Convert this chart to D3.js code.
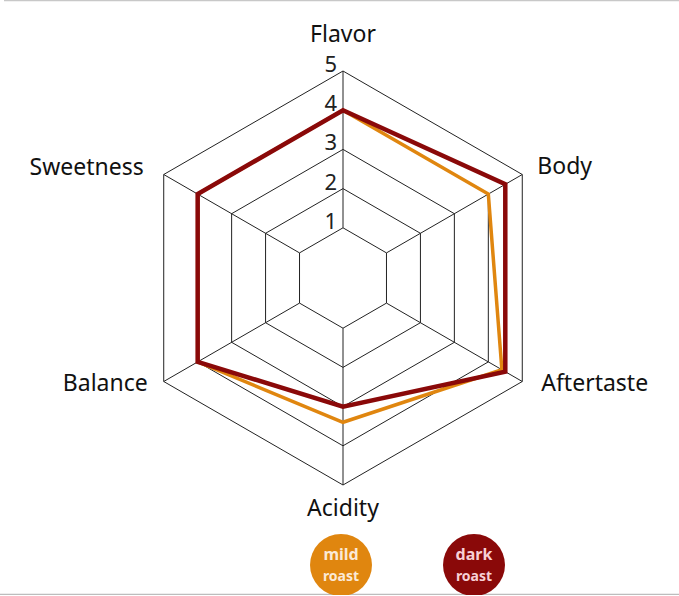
<!DOCTYPE html>
<html>
<head>
<meta charset="utf-8">
<script src="https://cdn.jsdelivr.net/npm/d3@7"></script>
<style>
  html, body { margin: 0; padding: 0; background: #fff; }
  svg { display: block; font-family: "Noto Sans", "Noto Sans CJK KR", sans-serif; }
</style>
</head>
<body>
<svg id="chart" width="679" height="596"></svg>
<script>
const axesNames = ["Flavor", "Body", "Aftertaste", "Acidity", "Balance", "Sweetness"];
const mildRoast = [4, 4, 4.4, 3.4, 4, 4];
const darkRoast = [4, 4.5, 4.5, 3, 4, 4];
const levels = [1, 2, 3, 4, 5];
const seriesNames = ["mild", "dark"];

const svg = d3.select("#chart");
const W = 679, H = 596;
const cx = 343, cy = 278;

// frame lines
svg.append("line").attr("x1", 4).attr("x2", W).attr("y1", 0.5).attr("y2", 0.5)
  .attr("stroke", "#c8c8c8").attr("stroke-width", 1.5);
svg.append("line").attr("x1", 0).attr("x2", W).attr("y1", 594.5).attr("y2", 594.5)
  .attr("stroke", "#bdbdbd").attr("stroke-width", 1.5);

const r = d3.scaleLinear().domain([0, 5]).range([11, 207]);
const angle = d3.scaleLinear().domain([0, axesNames.length]).range([-Math.PI / 2, 1.5 * Math.PI]);
const pt = (i, v) => [cx + r(v) * Math.cos(angle(i)), cy + r(v) * Math.sin(angle(i))];

const g = svg.append("g");

// grid hexagons
levels.forEach(l => {
  g.append("polygon")
    .attr("points", axesNames.map((_, i) => pt(i, l).join(",")).join(" "))
    .attr("fill", "none").attr("stroke", "#222").attr("stroke-width", 1);
});
// spokes
axesNames.forEach((_, i) => {
  const a = pt(i, 1), b = pt(i, 5);
  g.append("line").attr("x1", a[0]).attr("y1", a[1]).attr("x2", b[0]).attr("y2", b[1])
    .attr("stroke", "#222").attr("stroke-width", 1);
});

// tick labels
levels.forEach(l => {
  g.append("text").attr("x", cx - 6).attr("y", pt(0, l)[1] + 1)
    .attr("text-anchor", "end").attr("font-size", 22).attr("fill", "#222").text(l);
});

// series
const line = d3.line().curve(d3.curveLinearClosed);
const colors = { mild: "#e0860f", dark: "#8a0909" };
const widths = { mild: 3.5, dark: 4.5 };
[["mild", mildRoast], ["dark", darkRoast]].forEach(([name, vals]) => {
  g.append("path")
    .attr("d", line(vals.map((v, i) => pt(i, v))))
    .attr("fill", "none").attr("stroke", colors[name])
    .attr("stroke-width", widths[name]).attr("stroke-linejoin", "miter");
});

// axis labels
const labelOffsets = [
  { dx: 0, dy: -29, anchor: "middle" },
  { dx: 15, dy: -1, anchor: "start" },
  { dx: 19, dy: 9, anchor: "start" },
  { dx: 0, dy: 31, anchor: "middle" },
  { dx: -16, dy: 9, anchor: "end" },
  { dx: -20, dy: 0, anchor: "end" }
];
axesNames.forEach((n, i) => {
  const p = pt(i, 5), o = labelOffsets[i];
  g.append("text").attr("x", p[0] + o.dx).attr("y", p[1] + o.dy)
    .attr("text-anchor", o.anchor).attr("font-size", 23).attr("fill", "#111").text(n);
});

// legend
const legendX = d3.scalePoint().domain(seriesNames).range([341, 474]);
seriesNames.forEach(n => {
  const lg = svg.append("g").attr("transform", `translate(${legendX(n)},565)`);
  lg.append("circle").attr("r", 31).attr("fill", colors[n]);
  const tc = n === "mild" ? "#fbe9d6" : "#f7d0d6";
  lg.append("text").attr("y", -5).attr("text-anchor", "middle").attr("font-size", 16)
    .attr("font-weight", "bold").attr("fill", tc).text(n);
  lg.append("text").attr("y", 16).attr("text-anchor", "middle").attr("font-size", 14)
    .attr("font-weight", "bold").attr("fill", tc).text("roast");
});
svg.append("rect").attr("x", 0).attr("y", 595).attr("width", W).attr("height", 2).attr("fill", "#fff");
</script>
</body>
</html>
